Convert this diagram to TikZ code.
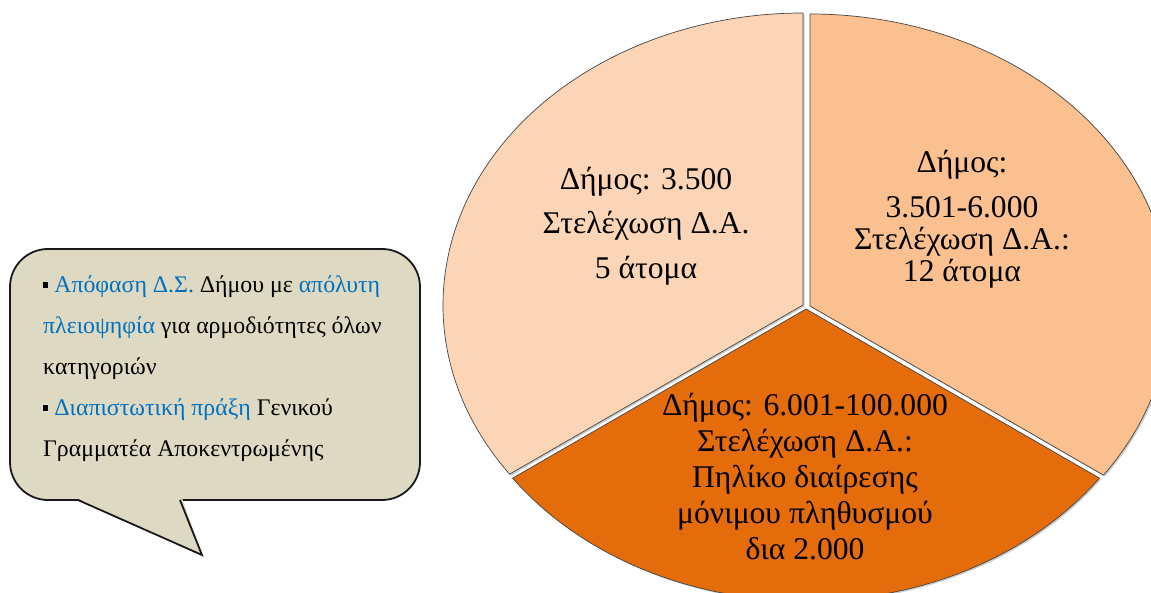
\documentclass[tikz,border=0pt]{standalone}
\usepackage{fontspec}
\setmainfont{Liberation Serif}
\usetikzlibrary{calc}
\usetikzlibrary{positioning}
\definecolor{peachlight}{RGB}{251,213,181}
\definecolor{peachmid}{RGB}{250,192,144}
\definecolor{orangedark}{RGB}{228,108,10}
\definecolor{notebg}{RGB}{221,217,195}
\definecolor{noteblue}{RGB}{0,112,192}
\newcommand{\hl}[1]{\textcolor{noteblue}{#1}}
\newcommand{\blt}{\raisebox{0.22em}{\rule{0.22em}{0.22em}}}

\begin{document}
\begin{tikzpicture}[x=1pt, y=-1pt,
    slice/.style={draw=gray!55!black, line width=0.7pt},
    sliceshadow/.style={fill=gray!40},
    pietext/.style={align=center, inner sep=0pt},
    callout/.style={fill=notebg, draw=black!90, line width=1.8pt, rounded corners=38pt, outer sep=0pt},
    notetext/.style={align=left, inner sep=0pt, font=\fontsize{23.8}{41}\selectfont}]
    \useasboundingbox (0,0) rectangle (1151,593);
    \clip (0,0) rectangle (1151,593);
    \coordinate (C) at (806,308);
    \def\rx{360}
    \def\ry{292}
    \foreach \a/\b/\dx/\dy/\col in {144.6/270/-3/-3/peachlight, 270/395.4/4/-2/peachmid, 35.4/144.6/0/1/orangedark}
    {
        \coordinate (P) at ($(C) + (\dx,\dy)$);
        \fill[sliceshadow] ($(P) + (1.5,1.5)$) -- +(\a:{\rx} and {\ry}) arc[start angle=\a, end angle=\b, x radius=\rx, y radius=\ry] -- cycle;
        \filldraw[slice, fill=\col] (P) -- +(\a:{\rx} and {\ry}) arc[start angle=\a, end angle=\b, x radius=\rx, y radius=\ry] -- cycle;
    }
    \node[pietext, font=\fontsize{31.6}{44.5}\selectfont] (small) at (646,226) {Δήμος: 3.500\\Στελέχωση Δ.Α.\\5 άτομα};
    \node[pietext, font=\fontsize{31.6}{32}\selectfont] (medium) at (962,219) {Δήμος:\\[13pt]3.501-6.000\\Στελέχωση Δ.Α.:\\12 άτομα};
    \node[pietext, font=\fontsize{31.6}{36}\selectfont] (large) at (805,477) {Δήμος: 6.001-100.000\\Στελέχωση Δ.Α.:\\Πηλίκο διαίρεσης\\μόνιμου πληθυσμού\\δια 2.000};

    \node[callout, minimum width=410pt, minimum height=251pt] (note) at (215,374.5) {};
    \coordinate (tip) at (202,555);
    \fill[notebg] ($(note.south west) + (66,-2)$) -- (tip) -- ($(note.south west) + (172,-2)$) -- cycle;
    \draw[draw=black!90, line width=1.8pt] ($(note.south west) + (68,0)$) -- (tip) -- ($(note.south west) + (170,0)$);
    \node[notetext, anchor=west] (notetxt) at (43,369) {\blt\ \hl{Απόφαση Δ.Σ.} Δήμου με \hl{απόλυτη}\\\hl{πλειοψηφία} για αρμοδιότητες όλων\\κατηγοριών\\\blt\ \hl{Διαπιστωτική πράξη} Γενικού\\Γραμματέα Αποκεντρωμένης};
\end{tikzpicture}
\end{document}
